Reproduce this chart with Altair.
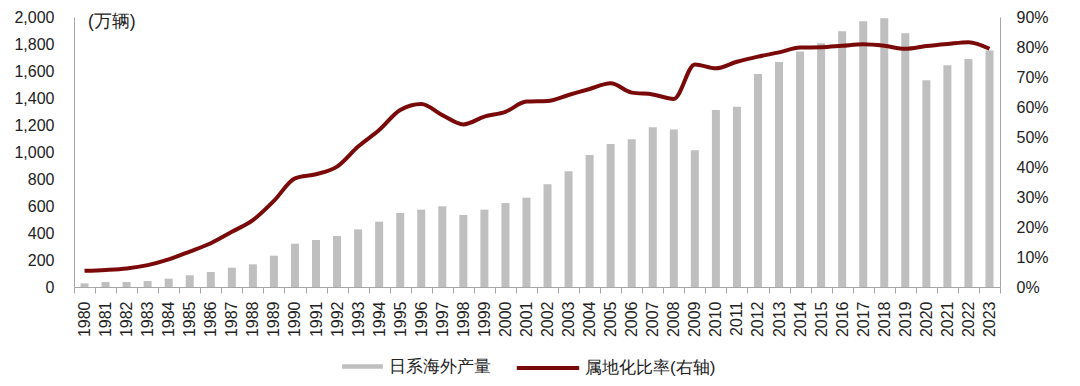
import altair as alt
import pandas as pd

years = [str(y) for y in range(1980, 2024)]
production = [27, 37, 37, 44, 62, 87, 111, 143, 168, 232,
              321, 348, 378, 427, 484, 548, 573, 598, 534, 573,
              622, 662, 761, 857, 978, 1060, 1094, 1183, 1166, 1013,
              1312, 1336, 1578, 1667, 1744, 1806, 1894, 1969, 1991, 1880,
              1531, 1643, 1689, 1751]
localization = [5.4, 5.7, 6.2, 7.3, 9.2, 11.8, 14.6, 18.4, 22.3, 28.7,
                36.2, 37.6, 40.1, 46.8, 52.3, 59.0, 61.0, 57.3, 54.2, 56.8,
                58.4, 61.8, 62.0, 64.0, 66.0, 67.9, 64.8, 64.2, 62.7, 74.2,
                72.9, 75.1, 76.8, 78.2, 79.8, 79.9, 80.4, 80.9, 80.4, 79.4,
                80.3, 81.0, 81.6, 79.4]
series_bar = "日系海外产量"
series_line = "属地化比率(右轴)"
unit_label = "(万辆)"

df = pd.DataFrame({
    "year": years,
    "production": production,
    "rate": [v / 100 for v in localization],
    "s_bar": series_bar,
    "s_line": series_line,
})

FONT = "Liberation Sans"

x_enc = alt.X(
    "year:O",
    sort=years,
    title=None,
    scale=alt.Scale(paddingInner=0, paddingOuter=0),
    axis=alt.Axis(
        labelAngle=-90, labelFontSize=16, labelColor="#222", labelFont=FONT,
        tickBand="extent", tickColor="#a6a6a6", tickSize=6,
        domainColor="#a6a6a6", labelPadding=8,
    ),
)

bars = alt.Chart(df).mark_bar(size=8).encode(
    x=x_enc,
    y=alt.Y(
        "production:Q",
        title=None,
        scale=alt.Scale(domain=[0, 2000], nice=False),
        axis=alt.Axis(
            values=list(range(0, 2001, 200)), format=",.0f", orient="left",
            labelFontSize=16, labelColor="#222", labelFont=FONT,
            ticks=False, labelPadding=20, domainColor="#a6a6a6", grid=False,
        ),
    ),
    fill=alt.Fill(
        "s_bar:N",
        scale=alt.Scale(domain=[series_bar], range=["#bfbfbf"]),
        legend=alt.Legend(
            title=None, orient="none", legendX=280, legendY=341, padding=0,
            symbolType="M-2.55,-0.28L2.55,-0.28L2.55,0.28L-2.55,0.28Z",
            symbolSize=256, symbolStrokeWidth=0, labelFontSize=17,
            labelFont=FONT, labelColor="#222", labelOffset=18,
        ),
    ),
)

line = alt.Chart(df).mark_line(strokeWidth=4, interpolate="monotone").encode(
    x=alt.X("year:O", sort=years, bandPosition=0.5),
    y=alt.Y(
        "rate:Q",
        title=None,
        scale=alt.Scale(domain=[0, 0.9], nice=False),
        axis=alt.Axis(
            values=[i / 10 for i in range(10)], format=".0%", orient="right",
            labelFontSize=16, labelColor="#222", labelFont=FONT,
            ticks=False, labelPadding=16, domainColor="#a6a6a6", grid=False,
        ),
    ),
    stroke=alt.Stroke(
        "s_line:N",
        scale=alt.Scale(domain=[series_line], range=["#7a0a0a"]),
        legend=alt.Legend(
            title=None, orient="none", legendX=464, legendY=341, padding=0,
            symbolType="M-3.9,0L3.9,0", symbolSize=256, symbolStrokeWidth=4,
            labelFontSize=17, labelFont=FONT, labelColor="#222", labelOffset=27,
        ),
    ),
)

unit = alt.Chart(pd.DataFrame({"t": [unit_label]})).mark_text(
    align="left", baseline="middle", fontSize=17.5, font=FONT, color="#222"
).encode(text="t:N", x=alt.value(14), y=alt.value(5))

chart = alt.layer(bars, line, unit).resolve_scale(
    y="independent"
).properties(
    width=926, height=270,
    autosize=alt.AutoSizeParams(type="none"),
    padding={"left": 66, "top": 9, "right": 70, "bottom": 92},
).configure_view(stroke=None)

chart.save("out.html", embed_options={"renderer": "svg", "actions": False})
